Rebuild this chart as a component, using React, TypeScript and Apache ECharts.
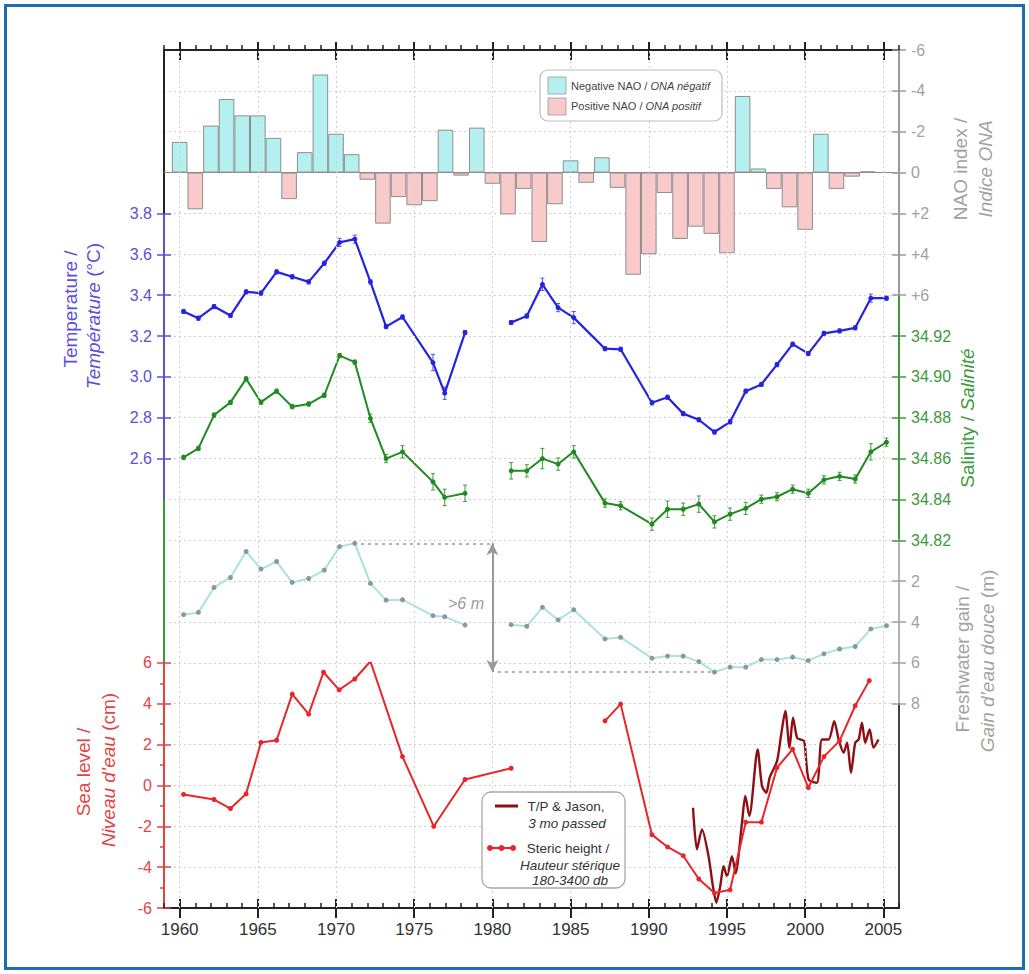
import React, { useEffect, useRef } from 'react';
import * as echarts from 'echarts';

const FONT = '"Liberation Sans", Arial, Helvetica, sans-serif';

// ---- Data -----------------------------------------------------------------

// Winter NAO index (negative phase plotted upward)
const NAO_YEARS = [
  1960, 1961, 1962, 1963, 1964, 1965, 1966, 1967, 1968, 1969,
  1970, 1971, 1972, 1973, 1974, 1975, 1976, 1977, 1978, 1979,
  1980, 1981, 1982, 1983, 1984, 1985, 1986, 1987, 1988, 1989,
  1990, 1991, 1992, 1993, 1994, 1995, 1996, 1997, 1998, 1999,
  2000, 2001, 2002, 2003, 2004,
];
const NAO_INDEX = [
  -1.5, 1.8, -2.3, -3.6, -2.8, -2.8, -1.7, 1.3, -1.0, -4.8,
  -1.9, -0.9, 0.35, 2.5, 1.2, 1.6, 1.4, -2.1, 0.15, -2.2,
  0.55, 2.05, 0.8, 3.4, 1.55, -0.6, 0.5, -0.75, 0.75, 5.0,
  4.0, 1.0, 3.25, 2.65, 3.0, 3.95, -3.75, -0.2, 0.8, 1.7,
  2.8, -1.9, 0.8, 0.2, -0.06,
];

// Survey dates of the hydrographic section, before and after the 1979-80 gap
const SURVEY_YEARS_EARLY = [
  1960.25, 1961.2, 1962.2, 1963.25, 1964.25, 1965.2, 1966.2, 1967.2, 1968.25,
  1969.25, 1970.23, 1971.2, 1972.2, 1973.2, 1974.25, 1976.2, 1976.95, 1978.25,
];
const SURVEY_YEARS_LATE = [
  1981.2, 1982.2, 1983.2, 1984.2, 1985.2, 1987.2, 1988.2, 1990.2, 1991.2,
  1992.2, 1993.2, 1994.2, 1995.2, 1996.2, 1997.2, 1998.2, 1999.2, 2000.2,
  2001.2, 2002.2, 2003.2, 2004.2, 2005.2,
];

// Temperature (°C)
const TEMP_EARLY = [
  3.32, 3.287, 3.344, 3.3, 3.416, 3.41, 3.514, 3.49, 3.465,
  3.556, 3.658, 3.674, 3.465, 3.246, 3.293, 3.07, 2.92, 3.217,
];
const TEMP_LATE = [
  3.266, 3.298, 3.453, 3.339, 3.29, 3.138, 3.135, 2.873, 2.9,
  2.82, 2.79, 2.73, 2.78, 2.93, 2.963, 3.06, 3.16, 3.114,
  3.213, 3.225, 3.24, 3.385, 3.385,
];
const TEMP_ERR_EARLY = [
  0.01, 0.01, 0.01, 0.01, 0.01, 0.01, 0.01, 0.01, 0.01,
  0.01, 0.02, 0.02, 0.01, 0.01, 0.01, 0.04, 0.03, 0.01,
];
const TEMP_ERR_LATE = [
  0.01, 0.01, 0.03, 0.02, 0.03, 0.01, 0.01, 0.01, 0.01,
  0.01, 0.01, 0.01, 0.01, 0.01, 0.01, 0.01, 0.01, 0.01,
  0.01, 0.01, 0.01, 0.02, 0.01,
];

// Salinity
const SAL_EARLY = [
  34.8606, 34.865, 34.8813, 34.8875, 34.899, 34.8876, 34.893, 34.8854, 34.8867,
  34.891, 34.9104, 34.9072, 34.8797, 34.86, 34.8633, 34.8486, 34.841, 34.843,
];
const SAL_LATE = [
  34.854, 34.854, 34.86, 34.8573, 34.8633, 34.8382, 34.8369, 34.8279, 34.8352,
  34.8352, 34.8377, 34.829, 34.8328, 34.8356, 34.8401, 34.8413, 34.845, 34.843,
  34.8496, 34.8513, 34.85, 34.8633, 34.868,
];
const SAL_ERR_EARLY = [
  0.001, 0.001, 0.001, 0.001, 0.001, 0.001, 0.001, 0.001, 0.001,
  0.001, 0.001, 0.001, 0.002, 0.002, 0.003, 0.004, 0.004, 0.004,
];
const SAL_ERR_LATE = [
  0.004, 0.003, 0.005, 0.003, 0.003, 0.002, 0.002, 0.003, 0.004,
  0.003, 0.004, 0.003, 0.003, 0.003, 0.002, 0.002, 0.002, 0.002,
  0.002, 0.002, 0.002, 0.004, 0.002,
];

// Freshwater gain (m)
const FRESH_EARLY = [
  3.64, 3.53, 2.31, 1.82, 0.55, 1.41, 1.04, 2.06, 1.87,
  1.46, 0.31, 0.15, 2.11, 2.93, 2.91, 3.69, 3.74, 4.15,
];
const FRESH_LATE = [
  4.13, 4.21, 3.28, 3.9, 3.4, 4.83, 4.75, 5.77, 5.67,
  5.67, 5.94, 6.45, 6.21, 6.21, 5.84, 5.84, 5.72, 5.89,
  5.56, 5.32, 5.2, 4.34, 4.18,
];
const FRESH_MAX_INDEX = 11; // 1971 in the early run, 1994 in the late run
const ARROW_YEAR = 1980;

// Steric height 180-3400 db (cm)
const STERIC_YEARS_EARLY = [
  1960.25, 1962.2, 1963.25, 1964.25, 1965.2, 1966.2, 1967.2, 1968.25,
  1969.2, 1970.2, 1971.2, 1972.2, 1974.25, 1976.25, 1978.25, 1981.2,
];
const STERIC_EARLY = [
  -0.44, -0.69, -1.13, -0.41, 2.1, 2.21, 4.47, 3.49,
  5.54, 4.68, 5.21, 6.08, 1.41, -2.0, 0.29, 0.84,
];
const STERIC_YEARS_LATE = [
  1987.2, 1988.2, 1990.2, 1991.2, 1992.2, 1993.2, 1994.2, 1995.2, 1996.2,
  1997.2, 1998.2, 1999.2, 2000.2, 2001.2, 2002.2, 2003.2, 2004.1,
];
const STERIC_LATE = [
  3.16, 3.98, -2.41, -3.01, -3.44, -4.58, -5.27, -5.11, -1.8,
  -1.8, 0.87, 1.77, -0.11, 1.41, 2.18, 3.9, 5.13,
];

// T/P & Jason altimetric sea level, 3-month low-passed (cm)
const ALTIMETRY_YEARS = [
  1992.83, 1993.08, 1993.4, 1993.82, 1994.1, 1994.32, 1994.57, 1994.78, 1995.0,
  1995.32, 1995.55, 1995.96, 1996.17, 1996.43, 1996.96, 1997.24, 1997.51, 1997.73,
  1998.2, 1998.45, 1998.73, 1999.0, 1999.22, 1999.48, 1999.69, 1999.94, 2000.22,
  2000.75, 2001.07, 2001.5, 2001.86, 2002.14, 2002.46, 2002.68, 2002.93, 2003.2,
  2003.42, 2003.63, 2003.84, 2004.12, 2004.37, 2004.69,
];
const ALTIMETRY = [
  -1.09, -3.13, -2.15, -3.46, -4.93, -5.74, -4.93, -3.95, -4.44,
  -3.46, -4.3, -1.83, -0.52, -1.5, 1.76, -0.03, -0.36, 0.38,
  1.19, 2.41, 3.64, 1.85, 3.31, 2.33, 2.25, 2.17, 0.29,
  0.13, 2.25, 2.25, 3.15, 2.25, 1.6, 2.09, 0.62, 2.09,
  2.25, 3.07, 2.09, 2.74, 1.85, 2.25,
];

// Axis ticks and labels
const YEAR_LABELS = [1960, 1965, 1970, 1975, 1980, 1985, 1990, 1995, 2000, 2005];
const TEMP_TICKS = [2.6, 2.8, 3.0, 3.2, 3.4, 3.6, 3.8];
const SAL_TICKS = [34.82, 34.84, 34.86, 34.88, 34.9, 34.92];
const FRESH_TICKS = [2, 4, 6, 8];

// ---- Colours ----------------------------------------------------------------
const C = {
  blue: '#2323e0',
  blueAxis: '#5a50dc',
  green: '#1f8a1f',
  greenAxis: '#3c9a3c',
  red: '#e8262a',
  redAxis: '#e24444',
  darkRed: '#8e0f12',
  grey: '#a2a2a2',
  fresh: '#a8e2e2',
  freshDot: '#8a9a9a',
  cyan: '#b4f0f0',
  pink: '#f8caca',
  frame: '#222222',
  grid: '#cfcfcf',
};

// ---- Layout -------------------------------------------------------------
const X_MIN = 1959;
const X_MAX = 2006;
const LEFT = 164;
const WIDTH = 735;
const TOP = 50;
const U = 858 / 21; // height of one grid row

const pairs = (xs: number[], ys: number[]) => xs.map((x, i) => [x, ys[i]]);
const gapped = (xa: number[], ya: number[], xb: number[], yb: number[]) => [
  ...pairs(xa, ya),
  [(xa[xa.length - 1] + xb[0]) / 2, null],
  ...pairs(xb, yb),
];
const errRows = (xs: number[], ys: number[], es: number[]) =>
  xs.map((x, i) => [x, ys[i] - es[i], ys[i] + es[i]]);

const band = (k0: number, k1: number) => ({
  left: LEFT,
  width: WIDTH,
  top: TOP + k0 * U,
  height: (k1 - k0) * U,
  containLabel: false,
  outerBoundsMode: 'none',
});

const xBase = (gridIndex: number) => ({
  type: 'value',
  gridIndex,
  min: X_MIN,
  max: X_MAX,
  axisLine: { show: false, onZero: false },
  axisTick: { show: false },
  axisLabel: { show: false },
  splitLine: { show: false },
});

const yBase = (gridIndex: number, position: string, min: number, max: number) => ({
  type: 'value',
  gridIndex,
  position,
  min,
  max,
  axisLine: { show: false, onZero: false },
  axisTick: { show: false },
  axisLabel: { show: false },
  splitLine: { show: false },
});

const lbl = (color: string, extra: any = {}) => ({
  show: true,
  color,
  fontSize: 16,
  fontFamily: FONT,
  margin: 12,
  ...extra,
});

const spine = (color: string, width = 2) => ({
  show: true,
  onZero: false,
  lineStyle: { color, width },
});

const ticks = (color: string, inside: boolean, extra: any = {}) => ({
  show: true,
  inside,
  length: 7,
  lineStyle: { color, width: 1.5 },
  ...extra,
});

const errorBars = (color: string) => (params: any, api: any) => {
  const x = api.value(0);
  const lo = api.coord([x, api.value(1)]);
  const hi = api.coord([x, api.value(2)]);
  const st = { stroke: color, lineWidth: 1 };
  return {
    type: 'group',
    children: [
      { type: 'line', shape: { x1: lo[0], y1: lo[1], x2: hi[0], y2: hi[1] }, style: st },
      { type: 'line', shape: { x1: lo[0] - 2, y1: lo[1], x2: lo[0] + 2, y2: lo[1] }, style: st },
      { type: 'line', shape: { x1: hi[0] - 2, y1: hi[1], x2: hi[0] + 2, y2: hi[1] }, style: st },
    ],
  };
};

const vTitle = (x: number, y: number, text: string, color: string) => ({
  type: 'text',
  x,
  y,
  rotation: Math.PI / 2,
  silent: true,
  z: 10,
  style: {
    text,
    fill: color,
    fontSize: 19,
    fontFamily: FONT,
    align: 'center',
    verticalAlign: 'middle',
    textAlign: 'center',
    textVerticalAlign: 'middle',
    rich: { i: { fontStyle: 'italic', fontSize: 19, fontFamily: FONT, fill: color } },
  },
});

const plainText = (x: number, y: number, text: string, size: number, color: string, align = 'left') => ({
  type: 'text',
  x,
  y,
  silent: true,
  z: 11,
  style: {
    text,
    fill: color,
    fontSize: size,
    fontFamily: FONT,
    align,
    verticalAlign: 'middle',
    textAlign: align,
    textVerticalAlign: 'middle',
    rich: { i: { fontStyle: 'italic', fontSize: size, fontFamily: FONT, fill: color } },
  },
});

function buildOption(): any {
  const grids = [
    band(0, 21), // 0 frame
    band(0, 6), // 1 NAO
    band(4, 11), // 2 temperature
    band(6, 12), // 3 salinity
    band(12, 16), // 4 freshwater
    band(15, 21), // 5 sea level
    band(0, 4), // 6 left spine, top
    band(11, 15), // 7 left spine, middle
    band(16, 21), // 8 right spine, bottom
  ];

  const xAxes = [
    // 0-2 bottom year axis: minor ticks, major ticks in/out, labels
    { ...xBase(0), position: 'bottom', interval: 1, axisLine: spine(C.frame), axisTick: ticks(C.frame, true, { length: 5 }) },
    { ...xBase(0), position: 'bottom', axisTick: ticks(C.frame, true, { length: 9, customValues: YEAR_LABELS, lineStyle: { color: C.frame, width: 2 } }) },
    {
      ...xBase(0),
      position: 'bottom',
      axisTick: ticks(C.frame, false, { length: 10, customValues: YEAR_LABELS, lineStyle: { color: C.frame, width: 2 } }),
      axisLabel: lbl('#333', { customValues: YEAR_LABELS, fontSize: 17, margin: 13, formatter: (v: number) => String(Math.round(v)) }),
    },
    // 3-5 top year axis
    { ...xBase(0), position: 'top', interval: 1, axisLine: spine(C.frame), axisTick: ticks(C.frame, false, { length: 5 }) },
    { ...xBase(0), position: 'top', axisTick: ticks(C.frame, true, { length: 10, customValues: YEAR_LABELS, lineStyle: { color: C.frame, width: 2 } }) },
    { ...xBase(0), position: 'top', axisTick: ticks(C.frame, false, { length: 8, customValues: YEAR_LABELS, lineStyle: { color: C.frame, width: 2 } }) },
    // 6 NAO zero line
    { ...xBase(1), position: 'bottom', axisLine: { show: true, onZero: true, lineStyle: { color: '#8c8c8c', width: 1.2 } } },
    { ...xBase(2) },
    { ...xBase(3) },
    { ...xBase(4) },
    { ...xBase(5) },
    { ...xBase(6) },
    { ...xBase(7) },
    { ...xBase(8) },
  ];

  const naoFmt = (v: number) => (v > 0 ? '+' + v : String(v));

  const yAxes = [
    // 0 frame: horizontal dotted grid
    {
      ...yBase(0, 'left', 0, 21),
      interval: 1,
      splitLine: { show: true, lineStyle: { color: C.grid, type: [2, 3], width: 1 } },
    },
    // 1-2 NAO
    {
      ...yBase(1, 'right', -6, 6),
      inverse: true,
      interval: 2,
      axisLine: spine('#9a9a9a'),
      axisTick: ticks('#9a9a9a', false),
      axisLabel: lbl(C.grey, { formatter: naoFmt }),
    },
    { ...yBase(1, 'right', -6, 6), inverse: true, interval: 2, axisTick: ticks('#9a9a9a', true) },
    // 3-4 temperature
    {
      ...yBase(2, 'left', 2.4, 3.8),
      axisLine: spine(C.blueAxis),
      axisTick: ticks(C.blueAxis, false, { customValues: TEMP_TICKS }),
      axisLabel: lbl(C.blueAxis, { customValues: TEMP_TICKS, formatter: (v: number) => v.toFixed(1) }),
    },
    { ...yBase(2, 'left', 2.4, 3.8), axisTick: ticks(C.blueAxis, true, { customValues: TEMP_TICKS }) },
    // 5-6 salinity
    {
      ...yBase(3, 'right', 34.82, 34.94),
      axisLine: spine(C.greenAxis),
      axisTick: ticks(C.greenAxis, false, { customValues: SAL_TICKS }),
      axisLabel: lbl(C.greenAxis, { customValues: SAL_TICKS, formatter: (v: number) => v.toFixed(2) }),
    },
    { ...yBase(3, 'right', 34.82, 34.94), axisTick: ticks(C.greenAxis, true, { customValues: SAL_TICKS }) },
    // 7-8 freshwater gain
    {
      ...yBase(4, 'right', 0, 8),
      inverse: true,
      axisLine: spine('#b4b4b4'),
      axisTick: ticks('#a0a0a0', false, { customValues: FRESH_TICKS }),
      axisLabel: lbl(C.grey, { customValues: FRESH_TICKS }),
    },
    { ...yBase(4, 'right', 0, 8), inverse: true, axisTick: ticks('#a0a0a0', true, { customValues: FRESH_TICKS }) },
    // 9-10 sea level
    {
      ...yBase(5, 'left', -6, 6),
      interval: 2,
      axisLine: spine(C.redAxis),
      axisTick: ticks(C.redAxis, false),
      minorTick: { show: true, splitNumber: 2, length: 4, lineStyle: { color: C.redAxis, width: 1.5 } },
      axisLabel: lbl(C.redAxis),
    },
    { ...yBase(5, 'left', -6, 6), interval: 2, axisTick: ticks(C.redAxis, true) },
    // 11-13 plain spine segments
    { ...yBase(6, 'left', 0, 1), axisLine: spine(C.frame) },
    { ...yBase(7, 'left', 0, 1), axisLine: spine(C.greenAxis) },
    { ...yBase(8, 'right', 0, 1), axisLine: spine('#444') },
  ];

  const lineCommon = {
    type: 'line',
    symbol: 'circle',
    showSymbol: true,
    connectNulls: false,
    silent: true,
    z: 4,
  };

  const series: any[] = [
    // vertical dotted grid every five years
    {
      type: 'line',
      xAxisIndex: 0,
      yAxisIndex: 0,
      data: [[X_MIN, -5]],
      showSymbol: false,
      silent: true,
      z: 0,
      lineStyle: { width: 0 },
      markLine: {
        silent: true,
        symbol: 'none',
        label: { show: false },
        lineStyle: { color: C.grid, type: [2, 3], width: 1 },
        data: YEAR_LABELS.map((x) => ({ xAxis: x })),
      },
    },
    // NAO bars
    {
      type: 'bar',
      xAxisIndex: 6,
      yAxisIndex: 1,
      barWidth: 15.6,
      silent: true,
      z: 2,
      data: pairs(NAO_YEARS, NAO_INDEX),
      itemStyle: {
        color: (p: any) => (p.value[1] < 0 ? C.cyan : C.pink),
        borderColor: '#8e8e8e',
        borderWidth: 1,
      },
    },
    // temperature
    {
      type: 'custom',
      xAxisIndex: 7,
      yAxisIndex: 3,
      silent: true,
      z: 3,
      renderItem: errorBars(C.blueAxis),
      encode: { x: 0, y: [1, 2] },
      data: [
        ...errRows(SURVEY_YEARS_EARLY, TEMP_EARLY, TEMP_ERR_EARLY),
        ...errRows(SURVEY_YEARS_LATE, TEMP_LATE, TEMP_ERR_LATE),
      ],
    },
    {
      ...lineCommon,
      xAxisIndex: 7,
      yAxisIndex: 3,
      symbolSize: 5,
      lineStyle: { color: C.blue, width: 2.2 },
      itemStyle: { color: C.blue },
      data: gapped(SURVEY_YEARS_EARLY, TEMP_EARLY, SURVEY_YEARS_LATE, TEMP_LATE),
    },
    // salinity
    {
      type: 'custom',
      xAxisIndex: 8,
      yAxisIndex: 5,
      silent: true,
      z: 3,
      renderItem: errorBars(C.greenAxis),
      encode: { x: 0, y: [1, 2] },
      data: [
        ...errRows(SURVEY_YEARS_EARLY, SAL_EARLY, SAL_ERR_EARLY),
        ...errRows(SURVEY_YEARS_LATE, SAL_LATE, SAL_ERR_LATE),
      ],
    },
    {
      ...lineCommon,
      xAxisIndex: 8,
      yAxisIndex: 5,
      symbolSize: 5,
      lineStyle: { color: C.green, width: 2 },
      itemStyle: { color: C.green },
      data: gapped(SURVEY_YEARS_EARLY, SAL_EARLY, SURVEY_YEARS_LATE, SAL_LATE),
    },
    // freshwater gain, with the >6 m range marker
    {
      ...lineCommon,
      xAxisIndex: 9,
      yAxisIndex: 7,
      symbolSize: 5,
      lineStyle: { color: C.fresh, width: 2 },
      itemStyle: { color: C.freshDot },
      data: gapped(SURVEY_YEARS_EARLY, FRESH_EARLY, SURVEY_YEARS_LATE, FRESH_LATE),
      markLine: {
        silent: true,
        symbol: 'none',
        label: { show: false },
        lineStyle: { color: '#9a9a9a', type: [3, 4], width: 1.6 },
        data: [
          [
            { coord: [SURVEY_YEARS_EARLY[FRESH_MAX_INDEX] + 0.4, FRESH_EARLY[FRESH_MAX_INDEX]] },
            { coord: [ARROW_YEAR - 0.15, FRESH_EARLY[FRESH_MAX_INDEX]] },
          ],
          [
            { coord: [ARROW_YEAR + 0.35, FRESH_LATE[FRESH_MAX_INDEX]] },
            { coord: [SURVEY_YEARS_LATE[FRESH_MAX_INDEX], FRESH_LATE[FRESH_MAX_INDEX]] },
          ],
          [
            {
              coord: [ARROW_YEAR, FRESH_EARLY[FRESH_MAX_INDEX]],
              symbol: 'arrow',
              symbolSize: [9, 12],
              lineStyle: { type: 'solid', width: 2, color: '#999' },
              itemStyle: { color: '#999' },
            },
            { coord: [ARROW_YEAR, FRESH_LATE[FRESH_MAX_INDEX]], symbol: 'arrow', symbolSize: [9, 12], itemStyle: { color: '#999' } },
          ],
        ],
      },
    },
    // altimetry
    {
      ...lineCommon,
      xAxisIndex: 10,
      yAxisIndex: 9,
      showSymbol: false,
      symbol: 'none',
      smooth: 0.25,
      lineStyle: { color: C.darkRed, width: 2.4 },
      itemStyle: { color: C.darkRed },
      data: pairs(ALTIMETRY_YEARS, ALTIMETRY),
    },
    // steric height
    {
      ...lineCommon,
      xAxisIndex: 10,
      yAxisIndex: 9,
      symbolSize: 5,
      z: 5,
      lineStyle: { color: C.red, width: 2 },
      itemStyle: { color: C.red },
      data: gapped(STERIC_YEARS_EARLY, STERIC_EARLY, STERIC_YEARS_LATE, STERIC_LATE),
    },
  ];

  const graphic: any[] = [
    // outer border
    {
      type: 'rect',
      silent: true,
      z: 20,
      shape: { x: 5.5, y: 5.5, width: 1018, height: 963 },
      style: { fill: 'transparent', stroke: '#1f6db0', lineWidth: 3 },
    },
    // axis titles
    vTitle(70, 309, 'Temperature /', C.blueAxis),
    vTitle(93, 316, '{i|Température} (°C)', C.blueAxis),
    vTitle(83, 772, 'Sea level /', C.redAxis),
    vTitle(108, 770, '{i|Niveau d’eau} (cm)', C.redAxis),
    vTitle(960, 169, 'NAO index /', C.grey),
    vTitle(985, 169, '{i|Indice ONA}', C.grey),
    vTitle(967, 418, 'Salinity / {i|Salinité}', C.greenAxis),
    vTitle(962, 659, 'Freshwater gain /', C.grey),
    vTitle(987, 661, '{i|Gain d’eau douce} (m)', C.grey),
    // range label
    {
      ...plainText(448, 603, '{i|>6 m}', 16, '#9a9a9a'),
      z: 6,
    },
    // NAO legend
    {
      type: 'rect',
      silent: true,
      z: 10,
      shape: { x: 540, y: 70, width: 182, height: 51, r: 8 },
      style: { fill: '#fff', stroke: '#bdbdbd', lineWidth: 1.2 },
    },
    {
      type: 'rect',
      silent: true,
      z: 11,
      shape: { x: 548, y: 77, width: 18, height: 17 },
      style: { fill: C.cyan, stroke: '#9a9a9a', lineWidth: 0.8 },
    },
    {
      type: 'rect',
      silent: true,
      z: 11,
      shape: { x: 548, y: 98, width: 18, height: 17 },
      style: { fill: C.pink, stroke: '#9a9a9a', lineWidth: 0.8 },
    },
    plainText(571, 86, 'Negative NAO / {i|ONA négatif}', 11, '#444'),
    plainText(571, 106, 'Positive NAO / {i|ONA positif}', 11, '#444'),
    // sea level legend
    {
      type: 'rect',
      silent: true,
      z: 10,
      shape: { x: 482, y: 792, width: 143, height: 96, r: 9 },
      style: { fill: '#fff', stroke: '#a8a8a8', lineWidth: 1.3 },
    },
    {
      type: 'line',
      silent: true,
      z: 11,
      shape: { x1: 495, y1: 806, x2: 518, y2: 806 },
      style: { stroke: C.darkRed, lineWidth: 3 },
    },
    {
      type: 'line',
      silent: true,
      z: 11,
      shape: { x1: 488, y1: 848, x2: 515, y2: 848 },
      style: { stroke: C.red, lineWidth: 2 },
    },
    ...[490, 501.5, 513].map((cx) => ({
      type: 'circle',
      silent: true,
      z: 12,
      shape: { cx, cy: 848, r: 3 },
      style: { fill: C.red },
    })),
    plainText(566, 806, 'T/P & Jason,', 13.5, '#333', 'center'),
    plainText(567, 823, '{i|3 mo passed}', 13.5, '#333', 'center'),
    plainText(568, 848, 'Steric height /', 13.5, '#333', 'center'),
    plainText(570, 865, '{i|Hauteur stérique}', 13.5, '#333', 'center'),
    plainText(570, 880, '{i|180-3400 db}', 13.5, '#333', 'center'),
  ];

  return {
    animation: false,
    backgroundColor: '#ffffff',
    textStyle: { fontFamily: FONT },
    grid: grids,
    xAxis: xAxes,
    yAxis: yAxes,
    series,
    graphic,
  };
}

export default function App() {
  const ref = useRef<HTMLDivElement>(null);

  useEffect(() => {
    if (!ref.current) return;
    const chart = echarts.init(ref.current, undefined, { renderer: 'svg' });
    chart.setOption(buildOption());
    return () => {
      chart.dispose();
    };
  }, []);

  return (
    <div
      ref={ref}
      style={{ position: 'fixed', left: 0, top: 0, width: 1029, height: 974, background: '#fff' }}
    />
  );
}
